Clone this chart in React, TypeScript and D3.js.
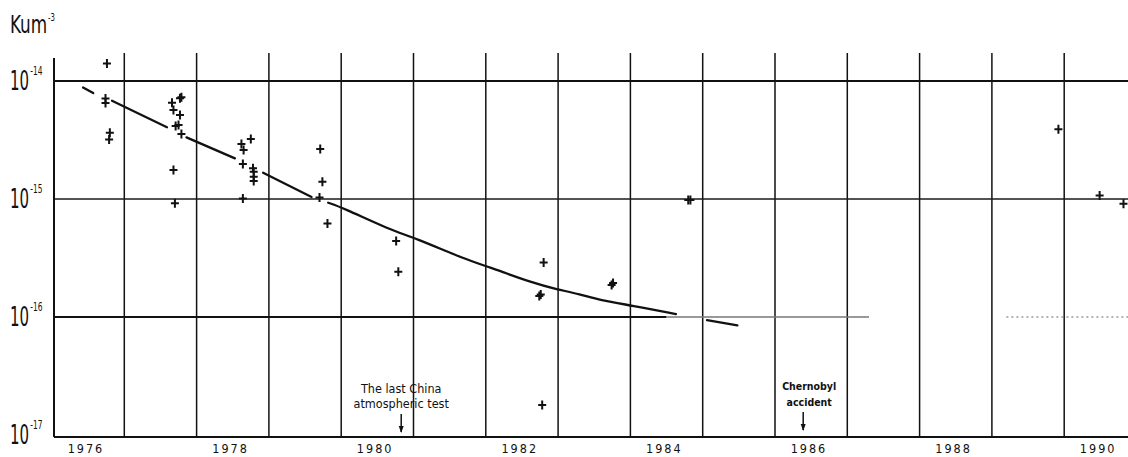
import React from "react";
import * as d3 from "d3";

// ---- data ----
const pointYears = [
  1976.76, 1976.74, 1976.74, 1976.8, 1976.79,
  1977.66, 1977.77, 1977.79, 1977.68, 1977.77, 1977.71, 1977.75, 1977.79, 1977.68, 1977.7,
  1978.62, 1978.65, 1978.75, 1978.64, 1978.78, 1978.79, 1978.79, 1978.79, 1978.64,
  1979.71, 1979.74, 1979.7, 1979.81,
  1980.76, 1980.79,
  1982.8, 1982.74, 1982.76, 1982.78,
  1983.74, 1983.76,
  1984.8, 1984.83,
  1989.92, 1990.49, 1990.82,
];
const pointValues = [
  1.41e-14, 7.1e-15, 6.5e-15, 3.65e-15, 3.2e-15,
  6.54e-15, 7.13e-15, 7.27e-15, 5.67e-15, 5.15e-15, 4.16e-15, 4.24e-15, 3.55e-15, 1.76e-15, 9.2e-16,
  2.92e-15, 2.6e-15, 3.22e-15, 1.98e-15, 1.82e-15, 1.7e-15, 1.54e-15, 1.42e-15, 1.01e-15,
  2.65e-15, 1.4e-15, 1.03e-15, 6.2e-16,
  4.4e-16, 2.42e-16,
  2.9e-16, 1.51e-16, 1.55e-16, 1.8e-17,
  1.87e-16, 1.94e-16,
  9.8e-16, 9.8e-16,
  3.9e-15, 1.07e-15, 9.1e-16,
];

// fitted trend curve, drawn in pieces (gaps as in the original drawing)
const fitSegmentYears = [
  [1976.43, 1976.57],
  [1976.83, 1977.59],
  [1977.86, 1978.53],
  [1978.92, 1979.59],
  [1979.82, 1980.01, 1980.68, 1981.0, 1981.74, 1982.01, 1982.66, 1982.98, 1983.3, 1983.58, 1984.02, 1984.63],
  [1985.06, 1985.48],
];
const fitSegmentValues = [
  [8.8e-15, 7.9e-15],
  [6.8e-15, 4.06e-15],
  [3.33e-15, 2.21e-15],
  [1.67e-15, 1.04e-15],
  [9.3e-16, 8.5e-16, 5.46e-16, 4.73e-16, 3.04e-16, 2.7e-16, 1.93e-16, 1.72e-16, 1.56e-16, 1.39e-16, 1.25e-16, 1.06e-16],
  [9.4e-17, 8.5e-17],
];

const yTicks = [1e-17, 1e-16, 1e-15, 1e-14];
const gridYears = [1977, 1978, 1979, 1980, 1981, 1982, 1983, 1984, 1985, 1986, 1987, 1988, 1989, 1990];
const labelYears = [1976, 1978, 1980, 1982, 1984, 1986, 1988, 1990];

const annotations = [
  { year: 1980.83, lines: ["The last China", "atmospheric test"] },
  { year: 1986.39, lines: ["Chernobyl", "accident"] },
];

const unitLabel = "Kum";
const unitExp = "-3";

const W = 1128;
const H = 457;
const FONT = "'DejaVu Sans Condensed', 'Liberation Sans Narrow', sans-serif";

export default function App() {
  const x = d3.scaleLinear().domain([1976, 1991]).range([52, 52 + 15 * 72.3]);
  const y = d3.scaleLog().domain([1e-17, 1e-14]).range([435, 81]);

  const axisX = 54;
  const bottomY = 437;
  const gridTop = 53;

  const line = d3
    .line<[number, number]>()
    .x((d) => x(d[0]))
    .y((d) => y(d[1]))
    .curve(d3.curveBasis);

  const ink = "#111";

  return (
    <svg
      width={W}
      height={H}
      viewBox={`0 0 ${W} ${H}`}
      style={{ position: "absolute", left: 0, top: 0, background: "#fff" }}
      fontFamily={FONT}
    >
      <rect x={0} y={0} width={W} height={H} fill="#fff" />

      {/* unit label */}
      <text transform="translate(10,33) scale(0.78,1)" fill={ink}>
        <tspan fontSize={24}>{unitLabel}</tspan>
        <tspan fontSize={10} dx={1} dy={-12}>
          {unitExp}
        </tspan>
      </text>

      {/* vertical year grid lines */}
      {gridYears.map((yr) => (
        <line
          key={yr}
          x1={x(yr)}
          x2={x(yr)}
          y1={gridTop}
          y2={bottomY}
          stroke={ink}
          strokeWidth={1.5}
        />
      ))}

      {/* horizontal decade lines */}
      <line x1={axisX} x2={W} y1={y(1e-14)} y2={y(1e-14)} stroke={ink} strokeWidth={1.8} />
      <line x1={axisX} x2={W} y1={y(1e-15)} y2={y(1e-15)} stroke="#1a1a1a" strokeWidth={1.3} />
      <line x1={axisX} x2={x(1984.5)} y1={y(1e-16)} y2={y(1e-16)} stroke={ink} strokeWidth={2} />
      <line x1={x(1984.5)} x2={x(1987.3)} y1={y(1e-16)} y2={y(1e-16)} stroke="#777" strokeWidth={1.3} />
      <line
        x1={x(1989.2)}
        x2={W}
        y1={y(1e-16)}
        y2={y(1e-16)}
        stroke="#666"
        strokeWidth={1.2}
        strokeDasharray="2 3"
      />

      {/* axes */}
      <line x1={axisX} x2={axisX} y1={58} y2={bottomY} stroke={ink} strokeWidth={2} />
      <line x1={axisX} x2={W} y1={bottomY} y2={bottomY} stroke={ink} strokeWidth={2} />

      {/* y tick labels */}
      {yTicks.map((t) => {
        const yy = y(t);
        const exp = Math.round(Math.log10(t));
        return (
          <text key={t} transform={`translate(10,${yy + 9}) scale(0.64,1)`} fill={ink}>
            <tspan fontSize={26}>10</tspan>
            <tspan fontSize={13} dx={2} dy={-15}>
              {String(exp)}
            </tspan>
          </text>
        );
      })}

      {/* x tick labels */}
      {labelYears.map((yr) => (
        <text
          key={yr}
          x={x(yr + 0.47)}
          y={453}
          fontSize={12.5}
          textAnchor="middle"
          letterSpacing={2}
          fill={ink}
        >
          {yr}
        </text>
      ))}

      {/* fitted curve */}
      {fitSegmentYears.map((ys, i) => (
        <path
          key={i}
          d={line(ys.map((yr, j) => [yr, fitSegmentValues[i][j]] as [number, number])) || ""}
          fill="none"
          stroke={ink}
          strokeWidth={2.3}
          strokeLinecap="round"
        />
      ))}

      {/* data points */}
      {pointYears.map((yr, i) => (
        <path
          key={i}
          transform={`translate(${x(yr)},${y(pointValues[i])})`}
          d="M-4,0H4M0,-4.5V4.5"
          stroke={ink}
          strokeWidth={2}
        />
      ))}

      {/* annotations */}
      {annotations.map((a, i) => {
        const ax = x(a.year);
        const small = i === 1;
        return (
          <g key={i} fill={ink}>
            {a.lines.map((l, k) => (
              <text
                key={k}
                x={ax + (small ? 6 : 0)}
                y={(small ? 390 : 393) + k * (small ? 16 : 15)}
                fontSize={small ? 10.5 : 12.5}
                fontWeight={small ? "bold" : "normal"}
                textAnchor="middle"
              >
                {l}
              </text>
            ))}
            <line x1={ax} x2={ax} y1={small ? 412 : 414} y2={small ? 430 : 432} stroke={ink} strokeWidth={1.5} />
            <path d={`M${ax - 2.5},${(small ? 424 : 426)}L${ax},${small ? 431 : 433}L${ax + 2.5},${small ? 424 : 426}Z`} />
          </g>
        );
      })}
    </svg>
  );
}
